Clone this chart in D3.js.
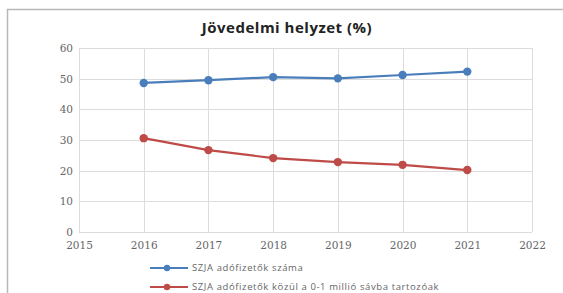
<!DOCTYPE html>
<html>
<head>
<meta charset="utf-8">
<script src="https://cdn.jsdelivr.net/npm/d3@7"></script>
<style>
  body { margin: 0; background: #fff; }
</style>
</head>
<body>
<script>
var years = [2016, 2017, 2018, 2019, 2020, 2021];
var taxpayers = [48.6, 49.5, 50.5, 50.1, 51.2, 52.3];
var lowBand = [30.6, 26.7, 24.1, 22.8, 21.9, 20.2];
var xTicks = [2015, 2016, 2017, 2018, 2019, 2020, 2021, 2022];
var yTicks = [0, 10, 20, 30, 40, 50, 60];
var seriesNames = ["SZJA adófizetők száma", "SZJA adófizetők közül a 0-1 millió sávba tartozóak"];
var colors = ["#4a7ebb", "#be4b48"];

var w = 563, h = 293;
var svg = d3.select("body").append("svg")
    .attr("width", w)
    .attr("height", h);

// outer chart frame
svg.append("rect")
    .attr("x", 7.5).attr("y", 9.5)
    .attr("width", 620).attr("height", 320)
    .attr("fill", "#fff")
    .attr("stroke", "#b8b8b8")
    .attr("stroke-width", 1.5);

svg.append("text")
    .attr("x", 287).attr("y", 33)
    .attr("text-anchor", "middle")
    .attr("font-family", "Open Sans, sans-serif")
    .attr("font-weight", "bold")
    .attr("font-size", "15px")
    .attr("letter-spacing", "0.5px")
    .attr("fill", "#222")
    .text("Jövedelmi helyzet (%)");

var x = d3.scaleLinear().domain([2015, 2022]).range([79, 532]);
var y = d3.scaleLinear().domain([0, 60]).range([232, 48]);

// grid
svg.append("g").selectAll("line.h")
    .data(yTicks)
    .enter().append("line")
    .attr("x1", x(2015)).attr("x2", x(2022))
    .attr("y1", function(d) { return Math.round(y(d)) + 0.5; })
    .attr("y2", function(d) { return Math.round(y(d)) + 0.5; })
    .attr("stroke", "#dcdcdc");

svg.append("g").selectAll("line.v")
    .data(xTicks)
    .enter().append("line")
    .attr("y1", y(0)).attr("y2", y(60))
    .attr("x1", function(d) { return Math.round(x(d)) + 0.5; })
    .attr("x2", function(d) { return Math.round(x(d)) + 0.5; })
    .attr("stroke", "#dcdcdc");

// axes (labels only)
var yAxis = svg.append("g")
    .attr("transform", "translate(" + (x(2015) - 6) + ",0)")
    .call(d3.axisLeft(y).tickValues(yTicks).tickSize(0).tickPadding(0));
var xAxis = svg.append("g")
    .attr("transform", "translate(0," + (y(0) + 4) + ")")
    .call(d3.axisBottom(x).tickValues(xTicks).tickFormat(d3.format("d")).tickSize(0).tickPadding(6));

[xAxis, yAxis].forEach(function(a) {
    a.select(".domain").remove();
    a.selectAll("text")
        .attr("font-family", "DejaVu Serif, serif")
        .attr("font-size", "10.5px")
        .attr("fill", "#666");
});

// series
var line = d3.line()
    .x(function(d, i) { return x(years[i]); })
    .y(function(d) { return y(d); });

[taxpayers, lowBand].forEach(function(s, k) {
    svg.append("path")
        .attr("d", line(s))
        .attr("fill", "none")
        .attr("stroke", colors[k])
        .attr("stroke-width", 2.2);
    svg.append("g").selectAll("circle")
        .data(s)
        .enter().append("circle")
        .attr("cx", function(d, i) { return x(years[i]); })
        .attr("cy", function(d) { return y(d); })
        .attr("r", 4.2)
        .attr("fill", colors[k]);
});

// legend
var legend = svg.append("g").selectAll("g")
    .data(seriesNames)
    .enter().append("g")
    .attr("transform", function(d, i) { return "translate(150," + (268 + i * 19) + ")"; });

legend.append("line")
    .attr("x1", 0).attr("x2", 38)
    .attr("stroke", function(d, i) { return colors[i]; })
    .attr("stroke-width", 2);
legend.append("circle")
    .attr("cx", 17).attr("r", 3.2)
    .attr("fill", function(d, i) { return colors[i]; });
legend.append("text")
    .attr("x", 42).attr("y", 3)
    .attr("font-family", "Open Sans, sans-serif")
    .attr("font-size", "9.5px")
    .attr("letter-spacing", "0.6px")
    .attr("fill", "#666")
    .text(function(d) { return d; });
</script>
</body>
</html>
